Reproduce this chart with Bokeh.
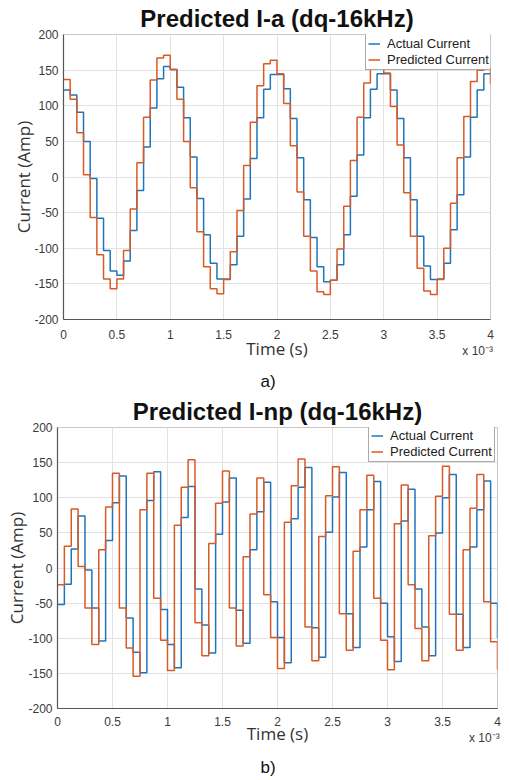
from bokeh.plotting import figure
from bokeh.models import (Legend, LegendItem, FixedTicker, Title, Div,
                          CustomJSTickFormatter, Range1d, ColumnDataSource)
from bokeh.layouts import column, row
from bokeh.embed import file_html
from bokeh.resources import INLINE

# ---------------- data ----------------
SAMPLE_PERIOD_MS = 0.0625          # 16 kHz sampling (x axis in units of 1e-3 s)

x_ticks = [0, 0.5, 1, 1.5, 2, 2.5, 3, 3.5, 4]
y_ticks = [-200, -150, -100, -50, 0, 50, 100, 150, 200]
MULT_POS = 3.88                     # where the "x 10^-3" note sits under the axis

title_a = "Predicted I-a (dq-16kHz)"
title_b = "Predicted I-np (dq-16kHz)"
series_names = ["Actual Current", "Predicted Current"]
x_label = "Time (s)"
y_label = "Current (Amp)"
x_multiplier = "x 10\u207b\u00b3"

ia_actual = [122, 115, 91, 50, -2, -58, -103, -132, -138, -118, -75, -19,
             42, 97, 138, 155, 151, 126, 83, 28, -30, -81, -121, -143,
             -144, -123, -83, -31, 26, 83, 123, 144, 144, 124, 82, 27,
             -32, -85, -126, -147, -145, -123, -81, -27, 31, 83, 123, 145,
             145, 122, 82, 27, -32, -83, -125, -144, -143, -121, -74, -25,
             28, 84, 122, 145, 145]
ia_pred = [137, 109, 62, 3, -57, -109, -143, -157, -143, -103, -45, 20,
           84, 136, 167, 171, 151, 109, 50, -15, -77, -126, -157, -164,
           -143, -105, -47, 16, 77, 128, 159, 164, 145, 103, 44, -21,
           -83, -132, -161, -165, -145, -101, -41, 23, 84, 132, 158, 165,
           146, 99, 45, -22, -83, -128, -160, -165, -144, -100, -37, 27,
           85, 134, 150, 152, 131]

inp_actual = [-52, -23, 27, 74, -3, -57, -104, 39, 93, 131, -71, -120,
              -149, 96, 137, -59, -109, -142, 72, 116, -30, -81, -121, 48,
              94, 128, -60, -107, 26, 80, 122, -48, -99, -135, 70, 115,
              143, -85, -127, 51, 101, 136, -65, -113, 30, 83, 123, -50,
              -98, -133, 67, 112, -30, -84, -125, 50, 100, 133, -66, -113,
              30, 83, 124, -50, -100]
inp_pred = [-24, 31, 84, 2, -57, -109, 26, 87, 135, -57, -114, -154,
            83, 135, -43, -103, -146, 61, 115, 154, -78, -125, 35, 92,
            138, -57, -111, 16, 77, 128, -38, -99, -143, 65, 117, 155,
            -84, -132, 45, 103, 144, -65, -117, 24, 83, 132, -43, -103,
            -145, 63, 118, -24, -86, -132, 46, 102, 145, -66, -117, 26,
            85, 133, -48, -105, -145]

BLUE = "#1f74bb"
RED = "#d95a26"


def make_panel(title, actual, pred, width, height, mb, legend_xy, g):
    t = [k * SAMPLE_PERIOD_MS for k in range(len(actual))]
    src = ColumnDataSource(data=dict(t=t, actual=actual, pred=pred))

    p = figure(width=width, height=height, output_backend="svg",
               toolbar_location=None, x_range=Range1d(0, 4),
               y_range=Range1d(-200, 200),
               min_border_left=mb[0], min_border_right=mb[1],
               min_border_top=mb[2], min_border_bottom=mb[3])
    p.background_fill_color = "white"
    p.border_fill_color = "white"
    p.outline_line_color = "#c8c8c8"

    p.title = Title(text=title, align="center", text_font="Liberation Sans",
                    text_font_size="24px", text_font_style="bold",
                    text_color="#111111", standoff=g["title_standoff"])

    xa, ya = p.xaxis[0], p.yaxis[0]
    xa.ticker = FixedTicker(ticks=x_ticks + [MULT_POS])
    xa.formatter = CustomJSTickFormatter(
        args=dict(mpos=MULT_POS, mtext=x_multiplier),
        code="return tick == mpos ? '\\n' + mtext : String(tick)")
    ya.ticker = FixedTicker(ticks=y_ticks)
    ya.formatter = CustomJSTickFormatter(code="return String(tick)")
    for ax in (xa, ya):
        ax.major_tick_in = 0
        ax.major_tick_out = 0
        ax.minor_tick_line_color = None
        ax.axis_line_color = "#555555"
        ax.axis_line_width = 1.2
        ax.major_label_text_font = "Liberation Sans"
        ax.major_label_text_font_size = "12px"
        ax.major_label_text_color = "#3a3a3a"
        ax.axis_label_text_font = "Open Sans"
        ax.axis_label_text_font_size = "17px"
        ax.axis_label_text_font_style = "normal"
        ax.axis_label_text_color = "#333333"
    xa.major_label_standoff = g["xtick_standoff"]
    ya.major_label_standoff = 5
    xa.axis_label = x_label
    xa.axis_label_standoff = g["xlab_standoff"]
    ya.axis_label = y_label
    ya.axis_label_standoff = g["ylab_standoff"]

    p.xgrid.ticker = FixedTicker(ticks=x_ticks)
    p.xgrid.grid_line_color = "#e2e2e2"
    p.ygrid.grid_line_color = "#e2e2e2"

    r1 = p.step(x="t", y="actual", source=src, mode="after",
                line_color=BLUE, line_width=1.5)
    r2 = p.step(x="t", y="pred", source=src, mode="after",
                line_color=RED, line_width=1.5)

    legend = Legend(items=[LegendItem(label=series_names[0], renderers=[r1]),
                           LegendItem(label=series_names[1], renderers=[r2])],
                    location=legend_xy, margin=0, padding=2, spacing=1,
                    glyph_width=12, glyph_height=13, label_height=13,
                    label_standoff=7, label_text_font="Liberation Sans",
                    label_text_font_size="13px", label_text_color="#222222",
                    border_line_color="#555555", border_line_width=1,
                    background_fill_color="white", background_fill_alpha=1)
    p.add_layout(legend, "center")
    return p


def letter_div(text, height, left, shift):
    return Div(text='<span style="position:relative; top:%.1fpx">%s</span>'
               % (shift, text),
               width=60, height=height, margin=(0, 0, 0, left),
               styles={"font-family": "Liberation Sans", "font-size": "17px",
                       "line-height": "%dpx" % height, "text-align": "center",
                       "color": "#111111"})


p1 = make_panel(title_a, ia_actual, ia_pred, 509, 365, (63, 19, 34, 46),
                (302, 249),
                dict(title_standoff=5, xtick_standoff=8, xlab_standoff=-24,
                     ylab_standoff=-4))
p2 = make_panel(title_b, inp_actual, inp_pred, 509, 362, (57, 12, 35, 46),
                (311, 246),
                dict(title_standoff=6, xtick_standoff=6, xlab_standoff=-26,
                     ylab_standoff=-3))

div_a = letter_div("a)", 27, 238, 2.6)
div_b = letter_div("b)", 25, 238, 0.5)

layout = column(row(p1), div_a, row(p2), div_b, spacing=0)

with open("out.html", "w") as f:
    f.write(file_html(layout, INLINE))
